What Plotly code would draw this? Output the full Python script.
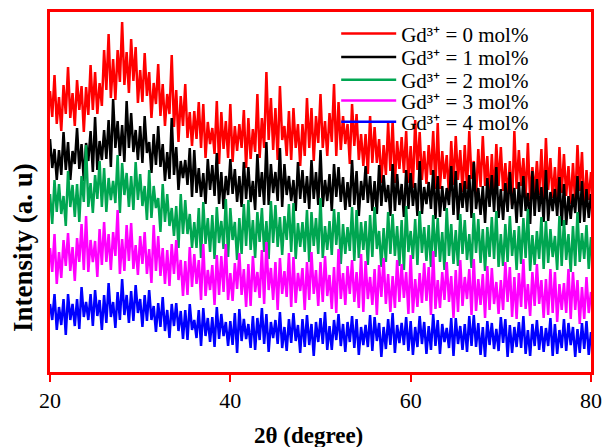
import numpy as np
import plotly.graph_objects as go

# 2theta sampling grid (0.25 degree step)
two_theta = np.linspace(20, 80, 241)

labels = ["Gd³⁺ = 0 mol%", "Gd³⁺ = 1 mol%", "Gd³⁺ = 2 mol%",
          "Gd³⁺ = 3 mol%", "Gd³⁺ = 4 mol%"]

gd0 = [281, 255, 297, 248, 275, 241, 287, 258, 305, 254, 279, 246, 292, 262, 286, 240,
       285, 257, 307, 262, 300, 258, 289, 266, 322, 282, 338, 274, 313, 272, 322, 290,
       350, 287, 320, 279, 333, 291, 325, 269, 302, 270, 319, 276, 300, 254, 289, 268,
       308, 256, 288, 246, 278, 258, 317, 245, 282, 230, 276, 246, 288, 234, 260, 226,
       261, 233, 270, 224, 268, 214, 250, 228, 244, 218, 271, 208, 260, 223, 251, 214,
       268, 210, 246, 221, 248, 224, 262, 204, 254, 213, 243, 220, 278, 214, 254, 224,
       300, 232, 274, 222, 264, 212, 286, 232, 246, 216, 261, 212, 264, 224, 248, 206,
       248, 216, 274, 224, 264, 211, 256, 229, 278, 224, 251, 216, 259, 230, 288, 216,
       270, 222, 256, 228, 248, 208, 268, 226, 258, 212, 238, 206, 238, 198, 256, 209,
       245, 209, 233, 189, 227, 197, 249, 201, 251, 189, 231, 203, 235, 199, 241, 189,
       226, 184, 252, 202, 240, 192, 221, 188, 227, 197, 241, 183, 249, 183, 221, 193,
       217, 175, 231, 187, 236, 192, 222, 180, 227, 183, 241, 193, 211, 175, 223, 185,
       236, 186, 216, 172, 218, 176, 228, 186, 225, 181, 209, 173, 211, 167, 241, 183,
       222, 186, 214, 174, 229, 171, 205, 179, 211, 177, 223, 167, 234, 182, 214, 174,
       205, 167, 225, 179, 218, 176, 206, 168, 209, 169, 227, 181, 220, 162, 202, 172,
       200]

gd1 = [233, 204, 223, 192, 222, 197, 240, 202, 230, 192, 221, 208, 244, 203, 228, 191,
       229, 211, 241, 200, 255, 202, 231, 212, 242, 213, 252, 205, 273, 224, 251, 216,
       247, 210, 271, 224, 259, 220, 242, 212, 246, 209, 256, 219, 230, 199, 238, 207,
       246, 205, 228, 191, 220, 193, 254, 197, 225, 182, 211, 194, 212, 187, 224, 175,
       222, 179, 204, 175, 199, 168, 213, 182, 207, 176, 219, 168, 200, 163, 196, 177,
       213, 178, 203, 170, 196, 165, 210, 173, 205, 170, 191, 162, 218, 175, 200, 167,
       230, 167, 208, 179, 200, 171, 224, 165, 208, 177, 196, 171, 192, 161, 210, 173,
       202, 169, 196, 163, 212, 173, 200, 167, 222, 165, 192, 171, 198, 161, 208, 175,
       205, 170, 195, 162, 190, 165, 212, 167, 201, 156, 191, 172, 206, 169, 196, 161,
       191, 158, 207, 166, 197, 170, 187, 156, 208, 161, 198, 167, 188, 155, 202, 163,
       199, 166, 189, 156, 211, 158, 185, 168, 190, 163, 202, 153, 196, 155, 186, 161,
       184, 167, 206, 157, 201, 152, 189, 164, 191, 160, 197, 154, 210, 163, 184, 157,
       186, 149, 194, 165, 197, 160, 205, 154, 183, 152, 189, 160, 200, 163, 184, 149,
       190, 155, 196, 161, 179, 148, 201, 156, 193, 160, 185, 150, 202, 151, 180, 161,
       183, 156, 195, 146, 188, 147, 176, 153, 178, 159, 196, 149, 191, 150, 183, 154,
       178]

gd2 = [178, 148, 192, 160, 188, 158, 176, 146, 201, 165, 187, 155, 188, 150, 196, 170,
       227, 165, 189, 159, 197, 173, 211, 165, 204, 160, 194, 172, 191, 169, 217, 159,
       209, 177, 199, 165, 196, 162, 210, 172, 198, 166, 186, 152, 202, 154, 186, 164,
       174, 140, 188, 150, 178, 146, 164, 136, 166, 124, 178, 138, 172, 138, 158, 124,
       150, 124, 164, 114, 170, 128, 154, 120, 157, 113, 165, 129, 151, 123, 173, 115,
       164, 132, 150, 112, 154, 118, 168, 126, 172, 122, 152, 114, 160, 130, 164, 120,
       151, 113, 171, 129, 167, 125, 155, 117, 156, 132, 168, 120, 169, 113, 149, 125,
       150, 120, 162, 110, 160, 126, 154, 118, 174, 114, 146, 122, 151, 117, 163, 127,
       160, 108, 148, 118, 145, 121, 165, 111, 162, 114, 150, 122, 151, 107, 157, 115,
       165, 123, 141, 105, 144, 110, 160, 118, 158, 116, 146, 106, 152, 102, 166, 120,
       141, 113, 153, 107, 161, 119, 145, 111, 147, 105, 157, 115, 154, 110, 140, 102,
       164, 116, 148, 108, 142, 106, 158, 118, 152, 112, 138, 104, 159, 119, 153, 109,
       143, 101, 145, 115, 155, 113, 161, 105, 138, 106, 148, 110, 156, 116, 142, 102,
       146, 108, 154, 114, 163, 101, 137, 107, 141, 113, 155, 103, 151, 109, 143, 115,
       136, 102, 156, 106, 152, 112, 138, 100, 146, 106, 160, 110, 139, 113, 147, 103,
       135]

gd3 = [124, 100, 138, 88, 120, 94, 132, 106, 139, 101, 125, 91, 134, 110, 148, 102,
       156, 100, 132, 110, 131, 95, 143, 107, 150, 110, 138, 102, 140, 116, 162, 98,
       133, 101, 147, 111, 149, 103, 127, 97, 136, 108, 140, 98, 123, 89, 147, 101,
       136, 96, 124, 88, 122, 86, 128, 98, 132, 92, 112, 76, 111, 77, 125, 85,
       118, 88, 112, 72, 128, 76, 102, 82, 107, 67, 117, 77, 116, 80, 128, 72,
       99, 71, 109, 83, 119, 77, 103, 65, 108, 66, 116, 80, 100, 74, 122, 68,
       130, 82, 104, 72, 110, 62, 114, 78, 101, 75, 119, 65, 115, 69, 99, 81,
       104, 62, 110, 72, 120, 78, 102, 66, 110, 70, 116, 76, 97, 63, 105, 59,
       123, 73, 99, 67, 106, 78, 112, 70, 100, 64, 118, 60, 111, 73, 95, 67,
       103, 57, 107, 75, 114, 68, 98, 60, 96, 64, 112, 70, 108, 74, 100, 58,
       117, 59, 93, 65, 99, 69, 109, 71, 105, 57, 121, 63, 92, 64, 100, 72,
       110, 70, 96, 54, 102, 60, 112, 66, 95, 73, 103, 57, 113, 61, 93, 67,
       98, 54, 106, 62, 104, 68, 90, 58, 92, 62, 110, 70, 105, 55, 95, 53,
       99, 65, 113, 63, 88, 56, 100, 66, 108, 68, 92, 54, 93, 57, 103, 59,
       100, 50, 88, 62, 89, 59, 103, 53, 100, 62, 92, 48, 85, 53, 95, 59,
       80]

gd4 = [68, 52, 78, 42, 65, 47, 73, 37, 78, 52, 68, 46, 73, 43, 85, 55,
       70, 52, 78, 46, 82, 56, 72, 42, 77, 49, 89, 55, 70, 44, 80, 52,
       93, 57, 77, 49, 81, 51, 87, 59, 73, 45, 77, 51, 82, 52, 66, 40,
       69, 45, 75, 41, 62, 34, 68, 46, 69, 41, 61, 33, 62, 32, 68, 42,
       52, 34, 62, 26, 64, 36, 54, 30, 55, 25, 65, 33, 58, 36, 50, 26,
       51, 27, 59, 19, 63, 31, 53, 33, 48, 24, 56, 22, 54, 32, 64, 28,
       58, 20, 50, 34, 52, 28, 60, 24, 45, 21, 53, 29, 59, 31, 47, 19,
       53, 25, 57, 27, 48, 16, 50, 30, 54, 28, 60, 22, 46, 22, 52, 32,
       58, 26, 48, 20, 50, 30, 56, 24, 53, 17, 45, 27, 47, 25, 57, 21,
       55, 31, 49, 15, 45, 23, 53, 27, 59, 19, 47, 29, 49, 27, 55, 21,
       51, 17, 45, 25, 56, 28, 50, 18, 46, 22, 58, 26, 52, 18, 48, 30,
       44, 24, 54, 16, 54, 28, 46, 22, 48, 20, 56, 26, 57, 25, 49, 17,
       45, 15, 51, 27, 49, 23, 43, 21, 55, 29, 53, 15, 47, 19, 45, 25,
       50, 24, 56, 18, 42, 16, 48, 26, 52, 22, 46, 20, 44, 26, 54, 16,
       48, 18, 42, 24, 53, 21, 49, 27, 45, 15, 43, 19, 49, 23, 51, 17,
       40]

series = [gd0, gd1, gd2, gd3, gd4]
colors = ['#FF0000', '#000000', '#00A651', '#FF00FF', '#0000FF']
legend_ids = ['legend', 'legend2', 'legend3', 'legend4', 'legend5']
legend_y = [0.939, 0.874, 0.811, 0.753, 0.694]

serif = "Times New Roman, Liberation Serif, serif"

fig = go.Figure()
for name, ys, col, lg in zip(labels, series, colors, legend_ids):
    fig.add_trace(go.Scatter(x=two_theta, y=ys, mode='lines', name=name, legend=lg,
                             line=dict(color=col, width=2.5)))

legends = {}
for lg, ly in zip(legend_ids, legend_y):
    legends[lg] = dict(x=0.529, y=ly, xanchor='left', yanchor='middle',
                       bgcolor='rgba(0,0,0,0)', font=dict(size=21, family=serif),
                       itemwidth=55)

fig.update_layout(
    width=607, height=447,
    plot_bgcolor='white', paper_bgcolor='white',
    margin=dict(l=50, r=16, t=12, b=75, autoexpand=False),
    font=dict(family=serif, color='black'),
    showlegend=True,
    xaxis=dict(range=[20, 80], tickvals=[20, 40, 60, 80], showgrid=False, zeroline=False,
               showline=True, linecolor='red', linewidth=2.5, mirror=True,
               ticks='outside', ticklen=7, tickwidth=2, tickcolor='red',
               tickfont=dict(size=22, family=serif), ticklabelstandoff=0),
    xaxis2=dict(range=[20, 80], tickvals=[20, 40, 60, 80], overlaying='x', anchor='y',
                side='bottom', showgrid=False, zeroline=False, showline=False,
                ticks='inside', ticklen=7, tickwidth=2, tickcolor='red', showticklabels=False),
    yaxis=dict(range=[0, 360], showticklabels=False, ticks='', showgrid=False, zeroline=False,
               showline=True, linecolor='red', linewidth=2.5, mirror=True),
    annotations=[
        dict(text="<b>2θ (degree)</b>", xref='paper', yref='paper', x=0.477, y=-0.175,
             showarrow=False, font=dict(size=23, family=serif), xanchor='center', yanchor='middle'),
        dict(text="<b>Intensity (a. u)</b>", xref='paper', yref='paper', x=-0.05, y=0.347,
             showarrow=False, textangle=-90, font=dict(size=27, family=serif),
             xanchor='center', yanchor='middle'),
    ],
    **legends,
)

fig.write_html("out.html", config={'displayModeBar': False},
               post_script="document.body.style.margin='0';")
